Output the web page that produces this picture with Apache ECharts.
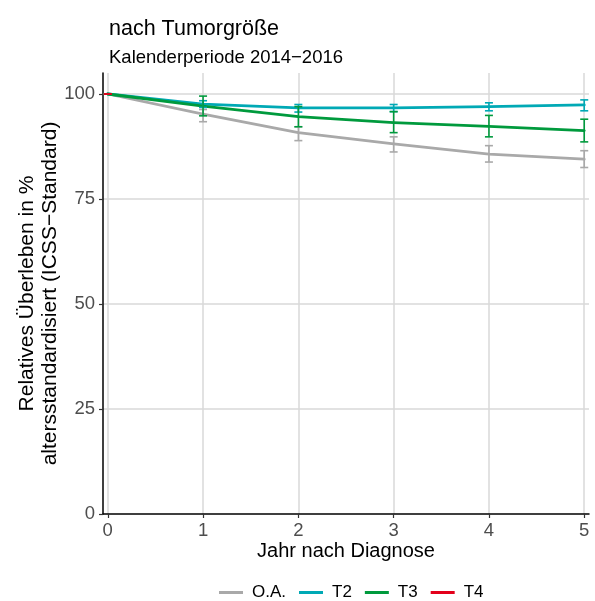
<!DOCTYPE html>
<html>
<head>
<meta charset="utf-8">
<script src="https://cdn.jsdelivr.net/npm/echarts@6/dist/echarts.min.js"></script>
<style>
html,body{margin:0;padding:0;background:#fff;}
#chart{width:595px;height:601px;}
</style>
</head>
<body>
<div id="chart"></div>
<script>
// ---- data ----
const years = [0, 1, 2, 3, 4, 5];
const xTicks = [0, 1, 2, 3, 4, 5];
const yTicks = [0, 25, 50, 75, 100];
const seriesNames = ['O.A.', 'T2', 'T3', 'T4'];

const oaValues = [100, 95.2, 90.8, 88.1, 85.7, 84.5];
const oaLower  = [100, 93.4, 88.9, 86.2, 83.8, 82.5];
const oaUpper  = [100, 96.3, 92.2, 89.8, 87.7, 86.5];

const t2Values = [100, 97.6, 96.7, 96.7, 97.0, 97.4];
const t2Lower  = [100, 96.8, 95.7, 95.8, 96.0, 96.0];
const t2Upper  = [100, 98.4, 97.5, 97.5, 97.9, 98.6];

const t3Values = [100, 97.1, 94.6, 93.2, 92.3, 91.3];
const t3Lower  = [100, 94.8, 92.2, 90.8, 89.8, 88.6];
const t3Upper  = [100, 99.5, 97.0, 95.8, 94.9, 94.0];

const t4Years  = [0];
const t4Values = [100];
const t4Lower  = [100];
const t4Upper  = [100];

// ---- styles ----
const colors = {'O.A.': '#A9A9A9', 'T2': '#00A9B5', 'T3': '#009A3D', 'T4': '#E3001B'};
const FONT = '"Liberation Sans", Arial, sans-serif';

function pairs(xs, ys) { return xs.map((x, i) => [x, ys[i]]); }
function triples(xs, lo, hi) { return xs.map((x, i) => [x, lo[i], hi[i]]); }

const groups = [
  {name: 'O.A.', xs: years, v: oaValues, lo: oaLower, hi: oaUpper},
  {name: 'T2', xs: years, v: t2Values, lo: t2Lower, hi: t2Upper},
  {name: 'T3', xs: years, v: t3Values, lo: t3Lower, hi: t3Upper},
  {name: 'T4', xs: t4Years, v: t4Values, lo: t4Lower, hi: t4Upper}
];

function errRender(color) {
  return function (params, api) {
    const x = api.value(0);
    const pLo = api.coord([x, api.value(1)]);
    const pHi = api.coord([x, api.value(2)]);
    const hw = 4;
    const style = {stroke: color, lineWidth: 1.6, fill: null};
    return {
      type: 'group',
      children: [
        {type: 'line', shape: {x1: pLo[0], y1: pLo[1], x2: pHi[0], y2: pHi[1]}, style: style},
        {type: 'line', shape: {x1: pLo[0] - hw, y1: pLo[1], x2: pLo[0] + hw, y2: pLo[1]}, style: style},
        {type: 'line', shape: {x1: pHi[0] - hw, y1: pHi[1], x2: pHi[0] + hw, y2: pHi[1]}, style: style}
      ]
    };
  };
}

const series = [];
// gridlines
series.push({
  name: '_grid', type: 'line', data: [], silent: true,
  markLine: {
    silent: true, symbol: ['none', 'none'], z: 0, animation: false,
    label: {show: false},
    lineStyle: {color: '#D9D9D9', width: 1.5, type: 'solid'},
    emphasis: {disabled: true},
    data: xTicks.map(t => ({xAxis: t})).concat(yTicks.slice(1).map(t => ({yAxis: t})))
  }
});
groups.forEach(g => {
  series.push({
    name: g.name, type: 'line', data: pairs(g.xs, g.v),
    showSymbol: false, symbol: 'none', z: 3,
    lineStyle: {color: colors[g.name], width: 2.8, cap: 'round', join: 'round'},
    itemStyle: {color: colors[g.name]},
    animation: false
  });
});
groups.forEach(g => {
  series.push({
    name: g.name, type: 'custom', data: triples(g.xs, g.lo, g.hi),
    encode: {x: 0, y: [1, 2]}, z: 4,
    renderItem: errRender(colors[g.name]),
    animation: false, silent: true
  });
});

const chart = echarts.init(document.getElementById('chart'), null, {renderer: 'canvas'});
chart.setOption({
  animation: false,
  backgroundColor: '#fff',
  title: [
    {text: 'nach Tumorgröße', left: 104, top: 13,
     textStyle: {fontFamily: FONT, fontSize: 21.5, fontWeight: 'normal', color: '#000'}},
    {text: 'Kalenderperiode 2014−2016', left: 104, top: 43,
     textStyle: {fontFamily: FONT, fontSize: 18.5, fontWeight: 'normal', color: '#000'}}
  ],
  legend: {
    data: seriesNames, left: 219, top: 584, padding: 0, icon: 'rect',
    itemWidth: 24, itemHeight: 3, itemGap: 13,
    textStyle: {fontFamily: FONT, fontSize: 17, color: '#000', padding: [0, 0, 0, 4]},
    selectedMode: false
  },
  grid: {left: 103, right: 6, top: 73, bottom: 87, containLabel: false},
  xAxis: {
    type: 'value', min: -0.05, max: 5.05,
    name: 'Jahr nach Diagnose', nameLocation: 'middle', nameGap: 27, nameMoveOverlap: false,
    nameTextStyle: {fontFamily: FONT, fontSize: 20, color: '#000'},
    axisLine: {show: true, onZero: false, lineStyle: {color: '#000', width: 1.5}},
    axisTick: {show: true, length: 4, customValues: xTicks, lineStyle: {color: '#333', width: 1.2}},
    axisLabel: {customValues: xTicks, margin: 7, fontFamily: FONT, fontSize: 18.5, color: '#4D4D4D'},
    splitLine: {show: false}
  },
  yAxis: {
    type: 'value', min: 0, max: 105,
    name: 'Relatives Überleben in %\naltersstandardisiert (ICSS−Standard)',
    nameLocation: 'middle', nameGap: 41, nameRotate: 90, nameMoveOverlap: false,
    nameTextStyle: {fontFamily: FONT, fontSize: 21, color: '#000', lineHeight: 23, align: 'center'},
    axisLine: {show: true, onZero: false, lineStyle: {color: '#000', width: 1.5}},
    axisTick: {show: true, length: 4, customValues: yTicks, lineStyle: {color: '#333', width: 1.2}},
    axisLabel: {customValues: yTicks, margin: 8, fontFamily: FONT, fontSize: 18.5, color: '#4D4D4D'},
    splitLine: {show: false}
  },
  series: series
});
</script>
</body>
</html>
